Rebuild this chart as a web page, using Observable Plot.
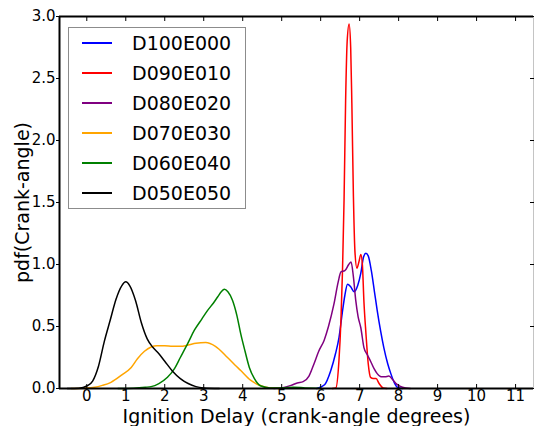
<!DOCTYPE html>
<html><head><meta charset="utf-8">
<script src="https://cdn.jsdelivr.net/npm/d3@7"></script>
<script src="https://cdn.jsdelivr.net/npm/@observablehq/plot@0.6"></script>
<style>
body{margin:0;background:#fff;}
#wrap{position:relative;width:534px;height:426px;font-family:"DejaVu Sans",sans-serif;}
#legend{position:absolute;left:68px;top:27px;width:176px;height:180px;border:1px solid #8c8c8c;background:#fff;}
.row{position:absolute;left:0;width:100%;height:30px;}
.row .sw{position:absolute;left:13px;top:14px;width:30px;height:0;border-top:2px solid;}
.row .lb{position:absolute;left:63px;top:3px;font-size:19px;line-height:24px;color:#000;white-space:nowrap;}
svg [aria-label="x-axis label"] text, svg [aria-label="y-axis label"] text {font-size:19px;}
</style>
</head><body>
<div id="wrap"></div>
<script>
const seriesNames = ["D100E000","D090E010","D080E020","D070E030","D060E040","D050E050"];
const seriesColors = ["#0000ff","#ff0000","#800080","#ffa500","#008000","#000000"];

const xD100E000 = [5.9,6.1,6.26,6.38,6.47,6.55,6.62,6.69,6.77,6.86,6.95,7.03,7.1,7.16,7.22,7.3,7.38,7.45,7.54,7.62,7.72,7.8,7.9,7.97,8.1];
const yD100E000 = [0,0.03,0.145,0.28,0.41,0.6,0.75,0.84,0.82,0.78,0.83,0.93,1.06,1.09,1.07,0.95,0.78,0.63,0.46,0.33,0.2,0.12,0.04,0.01,0];

const xD090E010 = [6.3,6.39,6.47,6.52,6.56,6.6,6.64,6.68,6.73,6.77,6.8,6.84,6.88,6.93,6.98,7.03,7.07,7.11,7.16,7.22,7.28,7.35,7.42,7.5,7.6,7.7];
const yD090E010 = [0,0.005,0.23,0.55,0.95,1.52,2.32,2.8,2.94,2.75,2.3,1.55,1.1,0.97,1.02,1.08,1.0,0.7,0.45,0.2,0.09,0.08,0.08,0.04,0.005,0];

const xD080E020 = [4.8,5.0,5.24,5.4,5.55,5.7,5.83,5.95,6.09,6.2,6.34,6.45,6.52,6.62,6.72,6.78,6.84,6.9,6.96,7.03,7.11,7.2,7.28,7.37,7.45,7.55,7.65,7.75,7.85,7.95,8.1,8.3];
const yD080E020 = [0,0.005,0.025,0.045,0.055,0.1,0.2,0.3,0.39,0.5,0.68,0.86,0.94,0.95,1.0,1.02,0.9,0.71,0.58,0.49,0.33,0.27,0.22,0.16,0.12,0.095,0.095,0.1,0.07,0.035,0.01,0];

const xD070E030 = [-0.4,-0.1,0.2,0.4,0.62,0.9,1.14,1.3,1.48,1.65,1.8,2.0,2.2,2.4,2.6,2.8,3.05,3.3,3.61,3.8,3.95,4.21,4.4,4.6,5.0];
const yD070E030 = [0,0.003,0.01,0.025,0.05,0.11,0.17,0.24,0.3,0.335,0.345,0.345,0.34,0.34,0.35,0.365,0.37,0.34,0.25,0.19,0.145,0.065,0.03,0.01,0];

const xD060E040 = [0.8,1.2,1.5,1.65,1.85,2.07,2.25,2.4,2.6,2.76,2.95,3.1,3.25,3.36,3.45,3.53,3.62,3.74,3.85,3.95,4.06,4.17,4.3,4.47,4.7,5.0,5.3,5.6,6.0];
const yD060E040 = [0,0.003,0.01,0.015,0.04,0.09,0.16,0.25,0.37,0.47,0.56,0.63,0.69,0.74,0.78,0.8,0.78,0.71,0.59,0.44,0.3,0.17,0.08,0.02,0.005,0.005,0.01,0.005,0];

const xD050E050 = [-0.5,-0.2,0,0.15,0.3,0.45,0.6,0.75,0.9,1.0,1.1,1.25,1.4,1.55,1.7,1.85,2.0,2.2,2.4,2.6,2.8,3.0,3.4];
const yD050E050 = [0,0.003,0.02,0.06,0.18,0.38,0.55,0.72,0.83,0.86,0.83,0.71,0.53,0.4,0.33,0.28,0.22,0.14,0.08,0.04,0.015,0.005,0];

const xTicks = [0,1,2,3,4,5,6,7,8,9,10,11];
const yTicks = [0,0.5,1.0,1.5,2.0,2.5,3.0];
const xDomain = [-0.7, 11.46];
const yDomain = [0, 3];

const xs = [xD100E000,xD090E010,xD080E020,xD070E030,xD060E040,xD050E050];
const ys = [yD100E000,yD090E010,yD080E020,yD070E030,yD060E040,yD050E050];
const data = seriesNames.flatMap((n,i) => xs[i].map((x,j) => ({series:n, x, y: ys[i][j]})));

const chart = Plot.plot({
  width: 534, height: 426,
  marginLeft: 59, marginRight: 1, marginTop: 16, marginBottom: 38,
  style: {fontFamily: '"DejaVu Sans", sans-serif', fontSize: "15px", color: "#000", background: "#fff"},
  x: {domain: xDomain},
  y: {domain: yDomain},
  color: {domain: seriesNames, range: seriesColors},
  marks: [
    Plot.line(data, {x: "x", y: "y", z: "series", stroke: "series", curve: "monotone-x", strokeWidth: 1.5}),
    Plot.ruleX([xDomain[1]], {stroke: "#c4c4c4", strokeWidth: 1}),
    Plot.ruleY([yDomain[0]], {stroke: "#000", strokeWidth: 2}),
    Plot.ruleY([yDomain[1]], {stroke: "#000", strokeWidth: 2}),
    Plot.ruleX([xDomain[0]], {stroke: "#000", strokeWidth: 2}),
    Plot.axisX({anchor: "bottom", ticks: xTicks, tickSize: -4, tickPadding: 6, label: "Ignition Delay (crank-angle degrees)", labelAnchor: "center", labelArrow: "none", labelOffset: 34}),
    Plot.axisX({anchor: "top", ticks: xTicks, tickSize: -4, tickFormat: () => "", label: null}),
    Plot.axisY({anchor: "left", ticks: yTicks, tickSize: 3, tickPadding: 1, tickFormat: d3.format(".1f"), label: "pdf(Crank-angle)", labelAnchor: "center", labelArrow: "none", labelOffset: 44}),
    Plot.axisY({anchor: "right", ticks: yTicks, tickSize: -4, tickFormat: () => "", label: null})
  ]
});
const wrap = document.getElementById("wrap");
wrap.appendChild(chart);

const legend = document.createElement("div");
legend.id = "legend";
seriesNames.forEach((n, i) => {
  const row = document.createElement("div");
  row.className = "row";
  row.style.top = (i * 30) + "px";
  const sw = document.createElement("div");
  sw.className = "sw";
  sw.style.borderTopColor = seriesColors[i];
  const lb = document.createElement("div");
  lb.className = "lb";
  lb.textContent = n;
  row.appendChild(sw); row.appendChild(lb);
  legend.appendChild(row);
});
wrap.appendChild(legend);
</script>
</body></html>
